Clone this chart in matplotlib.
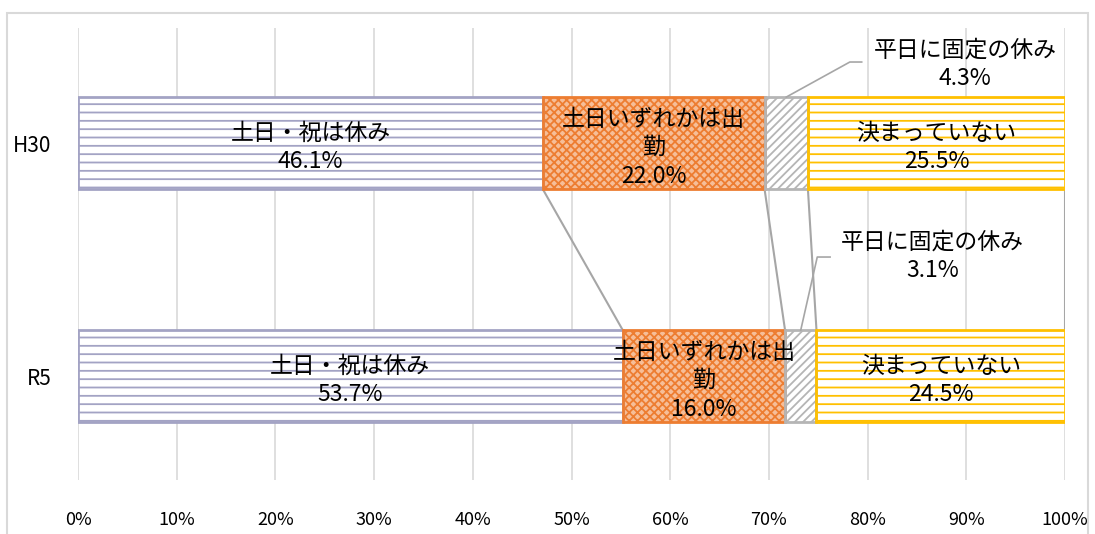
import matplotlib
matplotlib.use("Agg")
import matplotlib.pyplot as plt
import matplotlib.patches as mpatches
import numpy as np

plt.rcParams['font.family'] = ['Noto Sans CJK JP', 'DejaVu Sans']
plt.rcParams['hatch.linewidth'] = 1.3

categories = ['H30', 'R5']
series_names = ['土日・祝は休み', '土日いずれかは出\n勤', '平日に固定の休み', '決まっていない']
h30 = [46.1, 22.0, 4.3, 25.5]
r5 = [53.7, 16.0, 3.1, 24.5]

colors = ['#A3A3C4', '#ED7D31', '#B5B5B5', '#FFC000']
hatches = ['--', 'xxxx', '////', '--']
faces = ['white', '#F6BE98', 'white', 'white']

values = np.array([h30, r5])
shares = values / values.sum(axis=1, keepdims=True) * 100
lefts = np.hstack([np.zeros((2, 1)), np.cumsum(shares, axis=1)[:, :-1]])

fig = plt.figure(figsize=(10.95, 5.34), dpi=100)
ax = fig.add_axes([78 / 1095, 1 - 480 / 534, 987 / 1095, 452 / 534])

# chart frame
fig.patches.append(mpatches.Rectangle((7 / 1095, -0.05), 1081 / 1095, 1.05 - 13 / 534,
                                      transform=fig.transFigure, fill=False,
                                      edgecolor='#D9D9D9', linewidth=1.5))

ypos = np.arange(len(categories))
bar_h = 0.395

for j in range(4):
    ax.barh(ypos, shares[:, j], left=lefts[:, j], height=bar_h,
            color=faces[j], edgecolor=colors[j], hatch=hatches[j],
            linewidth=0, zorder=3)
    ax.barh(ypos, shares[:, j], left=lefts[:, j], height=bar_h, fill=False,
            edgecolor=colors[j], linewidth=2, zorder=4)

# series lines between the two bars
bounds = np.cumsum(shares, axis=1)
for j in range(4):
    ax.plot([bounds[0, j], bounds[1, j]], [ypos[0] + bar_h / 2, ypos[1] - bar_h / 2],
            color='#A6A6A6', linewidth=1.5, zorder=2)

# data labels
fs = 16.5
for i in range(2):
    for j in (0, 1, 3):
        cx = lefts[i, j] + shares[i, j] / 2
        ax.text(cx, ypos[i] + 0.02, f"{series_names[j]}\n{values[i, j]:.1f}%",
                ha='center', va='center', fontsize=fs, linespacing=1.3, zorder=6)

# callout labels for the narrow segment
callouts = [(89.9, -0.34, 78.2, -0.348, 79.4), (86.6, 0.487, 74.9, 0.489, 76.2)]
for i, (tx, ty, kx, ky, ex) in enumerate(callouts):
    sx = lefts[i, 2] + shares[i, 2] / 2
    sy = ypos[i] - bar_h / 2
    ax.plot([sx, kx, ex], [sy, ky, ky], color='#A6A6A6', linewidth=1.2, zorder=5)
    ax.text(tx, ty, f"{series_names[2]}\n{values[i, 2]:.1f}%", ha='center', va='center',
            fontsize=fs, linespacing=1.3, zorder=6)

ax.set_xlim(0, 100)
ax.set_ylim(1.446, -0.494)
ax.set_xticks(np.arange(0, 101, 10))
ax.set_xticklabels([f"{t}%" for t in range(0, 101, 10)], fontsize=13)
ax.set_yticks(ypos)
ax.set_yticklabels(categories, fontsize=15)
ax.tick_params(length=0, pad=22)
ax.tick_params(axis='y', pad=19)
ax.grid(axis='x', color='#D9D9D9', linewidth=1.2, zorder=0)
ax.set_axisbelow(True)
for s in ax.spines.values():
    s.set_visible(False)

fig.savefig('out.png', dpi=100)
